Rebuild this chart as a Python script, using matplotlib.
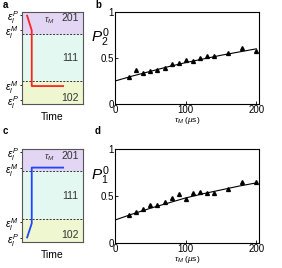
import matplotlib
matplotlib.use("Agg")
import matplotlib.pyplot as plt

plt.rcParams['font.family'] = ['Liberation Sans', 'DejaVu Sans']
plt.rcParams['mathtext.fontset'] = 'custom'
plt.rcParams['mathtext.rm'] = 'Liberation Sans'
plt.rcParams['mathtext.it'] = 'Liberation Sans:italic'

# ---- data ----
tau_b = [20, 30, 40, 50, 60, 70, 80, 90, 100, 110, 120, 130, 140, 160, 180, 200]
p02 = [0.29, 0.37, 0.34, 0.36, 0.37, 0.39, 0.43, 0.445, 0.48, 0.47, 0.50, 0.52, 0.52, 0.56, 0.61, 0.58]
fit_x = [0, 25, 50, 75, 100, 125, 150, 175, 200]
fit_b = [0.25, 0.305, 0.355, 0.405, 0.45, 0.49, 0.53, 0.565, 0.60]

tau_d = [20, 30, 40, 50, 60, 70, 80, 90, 100, 110, 120, 130, 140, 160, 180, 200]
p01 = [0.30, 0.33, 0.365, 0.40, 0.41, 0.44, 0.475, 0.525, 0.47, 0.53, 0.545, 0.53, 0.535, 0.57, 0.65, 0.65]
fit_d = [0.245, 0.31, 0.37, 0.425, 0.48, 0.525, 0.565, 0.605, 0.64]

level_ticks = [0.04, 0.21, 0.80, 0.97]
level_labels = [r'$\epsilon_l^P$', r'$\epsilon_l^M$', r'$\epsilon_l^M$', r'$\epsilon_l^P$']
region_bounds = [0.0, 0.25, 0.76, 1.0]
region_names = ['102', '111', '201']
region_colors = ['#eef7cf', '#e3f8f1', '#e3d6f5']

# trajectories (time fraction, energy)
traj_a_t = [0.08, 0.16, 0.16, 0.69]
traj_a_e = [0.97, 0.80, 0.195, 0.195]
traj_c_t = [0.08, 0.16, 0.16, 0.69]
traj_c_e = [0.04, 0.20, 0.80, 0.80]

fig = plt.figure(figsize=(2.82, 2.68), dpi=100)

def level_panel(rect, tt, ee, color):
    ax = fig.add_axes(rect)
    ax.set_xlim(0, 1)
    ax.set_ylim(0, 1)
    for i in range(3):
        ax.axhspan(region_bounds[i], region_bounds[i + 1], color=region_colors[i], lw=0)
    for b in region_bounds[1:3]:
        ax.axhline(b, color='#333333', lw=0.7, ls=(0, (2, 1.5)))
    ax.plot(tt, ee, color=color, lw=1.3, solid_capstyle='butt')
    ax.text(0.93, 0.07, region_names[0], ha='right', va='center', fontsize=7.5, color='#333333')
    ax.text(0.93, 0.50, region_names[1], ha='right', va='center', fontsize=7.5, color='#333333')
    ax.text(0.93, 0.93, region_names[2], ha='right', va='center', fontsize=7.5, color='#333333')
    ax.text(0.45, 0.91, r'$\tau_M$', ha='center', va='center', fontsize=6.5, color='#333333')
    ax.set_xticks([])
    ax.set_yticks(level_ticks)
    ax.set_yticklabels(level_labels, fontsize=7.5)
    ax.tick_params(axis='y', direction='out', length=1.5, width=0.6, pad=1)
    ax.set_xlabel('Time', fontsize=7.5, labelpad=6)
    for s in ax.spines.values():
        s.set_color('#555555')
        s.set_linewidth(0.8)
    return ax

def data_panel(rect, x, y, fx, fy, lab):
    ax = fig.add_axes(rect)
    ax.plot(fx, fy, color='black', lw=0.8)
    ax.plot(x, y, ls='none', marker='^', ms=2.8, color='black')
    ax.set_xlim(0, 204)
    ax.set_ylim(0, 1)
    ax.set_xticks([0, 100, 200])
    ax.set_yticks([0, 0.5, 1])
    ax.set_yticklabels(['0', '0.5', '1'])
    ax.tick_params(direction='in', length=2, width=0.6, labelsize=7, pad=1)
    ax.set_xlabel(r'$\tau_M$ ($\mu$s)', fontsize=6, labelpad=0)
    ax.set_ylabel(lab, fontsize=11, rotation=0, labelpad=2, va='center')
    ax.yaxis.set_label_coords(-0.1, 0.72)
    for s in ax.spines.values():
        s.set_linewidth(0.8)
    return ax

level_panel([0.078, 0.612, 0.216, 0.343], traj_a_t, traj_a_e, '#ff2222')
data_panel([0.408, 0.612, 0.511, 0.343], tau_b, p02, fit_x, fit_b, r'$P^0_2$')
level_panel([0.078, 0.097, 0.216, 0.347], traj_c_t, traj_c_e, '#2244ff')
data_panel([0.408, 0.093, 0.511, 0.351], tau_d, p01, fit_x, fit_d, r'$P^0_1$')

for lt, (px, py) in zip('abcd', [(3, 5), (95, 5), (3, 131), (95, 131)]):
    fig.text(px / 282, 1 - py / 268, lt, fontsize=7, fontweight='bold', va='center', ha='left')

fig.savefig('out.png', dpi=100)
